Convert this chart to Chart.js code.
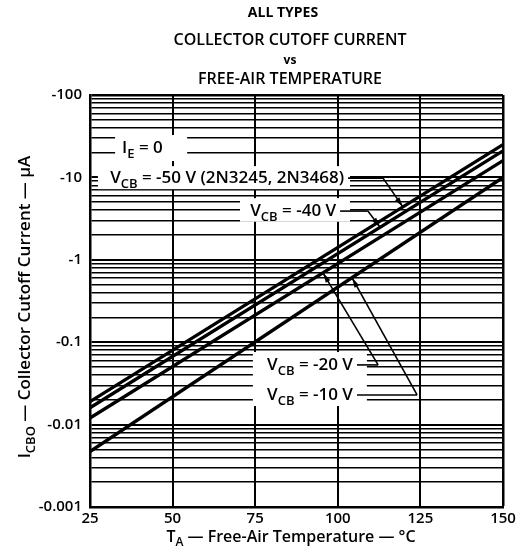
<!DOCTYPE html>
<html>
<head>
<meta charset="utf-8">
<script src="https://cdn.jsdelivr.net/npm/chart.js@4.4.1/dist/chart.umd.min.js"></script>
<style>
  html, body { margin: 0; padding: 0; background: #fff; }
  canvas { display: block; }
</style>
</head>
<body>
<canvas id="cutoffChart" width="519" height="553"></canvas>
<script>
// Values (magnitude of I_CBO in uA)
const temperatures = [25, 150];
const iCbo50V = [0.019, 25];
const iCbo40V = [0.016, 21];
const iCbo20V = [0.012, 16];
const iCbo10V = [0.0047, 10];

const xTicks = [25, 50, 75, 100, 125, 150];
const yDecades = [0.001, 0.01, 0.1, 1, 10, 100];
const yTickLabels = ['-0.001', '-0.01', '-0.1', '-1', '-10', '-100'];

const FONT = '"Open Sans", Lato, sans-serif';
const WEIGHT = '600 ';
const INK = '#000';

const series = [iCbo50V, iCbo40V, iCbo20V, iCbo10V];

// every 1..9 step of each decade gets a grid line
const yGrid = [];
yDecades.forEach((d, i) => {
    if (i === yDecades.length - 1) { yGrid.push(d); return; }
    for (let m = 1; m <= 9; m++) yGrid.push(+(m * d).toPrecision(3));
});

// annotation boxes / arrows, placed in data units (degC, uA)
const notes = [
    { parts: [['I'], ['E', 1], [' = 0']], x: 34.7, y: 22.7, box: [32.6, 54.4, 32.7, 15.8] },
    { parts: [['V'], ['CB', 1], [' = -50 V (2N3245, 2N3468)']], x: 31.1, y: 9.8, box: [27.4, 103.7, 13.7, 7.2], elbow: 113.7, tipX: 119.7, line: 0 },
    { parts: [['V'], ['CB', 1], [' = -40 V']], x: 73.5, y: 3.9, box: [70.4, 103.7, 5.6, 2.9], elbow: 109.1, tipX: 112.8, line: 1 },
    { parts: [['V'], ['CB', 1], [' = -20 V']], x: 78.6, y: 0.053, box: [74.3, 108.8, 0.076, 0.0168], elbow: 112.2, tipX: 95.5, line: 2 },
    { parts: [['V'], ['CB', 1], [' = -10 V']], x: 78.6, y: 0.0229, elbow: 124.0, tipX: 104.3, line: 3 }
];

function valueOn(values, t) {
    const f = (t - temperatures[0]) / (temperatures[1] - temperatures[0]);
    const l0 = Math.log10(values[0]), l1 = Math.log10(values[1]);
    return Math.pow(10, l0 + f * (l1 - l0));
}

function isDecade(v) {
    const l = Math.log10(v);
    return Math.abs(l - Math.round(l)) < 1e-9;
}

// text with subscripts, returns drawn width
function drawRich(ctx, parts, x, y, size, align) {
    const subSize = Math.round(size * 0.78);
    let w = 0;
    parts.forEach(([t, sub]) => {
        ctx.font = WEIGHT + (sub ? subSize : size) + 'px ' + FONT;
        w += ctx.measureText(t).width;
    });
    let cx = align === 'center' ? x - w / 2 : (align === 'right' ? x - w : x);
    ctx.textAlign = 'left';
    ctx.textBaseline = 'middle';
    ctx.fillStyle = INK;
    parts.forEach(([t, sub]) => {
        ctx.font = WEIGHT + (sub ? subSize : size) + 'px ' + FONT;
        ctx.fillText(t, cx, sub ? y + size * 0.36 : y);
        cx += ctx.measureText(t).width;
    });
    return w;
}

function arrow(ctx, x0, y0, x1, y1) {
    ctx.beginPath();
    ctx.moveTo(x0, y0);
    ctx.lineTo(x1, y1);
    ctx.stroke();
    const a = Math.atan2(y1 - y0, x1 - x0);
    const len = 10, half = 2.6;
    ctx.beginPath();
    ctx.moveTo(x1, y1);
    ctx.lineTo(x1 - len * Math.cos(a) + half * Math.sin(a), y1 - len * Math.sin(a) - half * Math.cos(a));
    ctx.lineTo(x1 - len * Math.cos(a) - half * Math.sin(a), y1 - len * Math.sin(a) + half * Math.cos(a));
    ctx.closePath();
    ctx.fill();
}

const sheetPlugin = {
    id: 'sheet',
    beforeDraw(chart) {
        const ctx = chart.ctx;
        ctx.save();
        ctx.fillStyle = '#fff';
        ctx.fillRect(0, 0, chart.width, chart.height);
        ctx.restore();
    },
    beforeDatasetsDraw(chart) {
        // white patches behind the labels, over the grid
        const { ctx, scales: { x, y } } = chart;
        ctx.save();
        ctx.fillStyle = '#fff';
        notes.forEach(n => {
            if (!n.box) return;
            const x0 = x.getPixelForValue(n.box[0]), x1 = x.getPixelForValue(n.box[1]);
            const y0 = y.getPixelForValue(n.box[2]), y1 = y.getPixelForValue(n.box[3]);
            ctx.fillRect(x0, y0, x1 - x0, y1 - y0);
        });
        ctx.restore();
    },
    afterDatasetsDraw(chart) {
        const { ctx, scales: { x, y } } = chart;
        ctx.save();
        ctx.strokeStyle = INK;
        ctx.fillStyle = INK;
        ctx.lineWidth = 1.6;
        notes.forEach(n => {
            const px = x.getPixelForValue(n.x), py = y.getPixelForValue(n.y);
            const w = drawRich(ctx, n.parts, px, py, 17, 'left');
            if (n.elbow === undefined) return;
            const ex = x.getPixelForValue(n.elbow);
            const tx = x.getPixelForValue(n.tipX);
            const ty = y.getPixelForValue(valueOn(series[n.line], n.tipX));
            ctx.beginPath();
            ctx.moveTo(px + w + 4, py);
            ctx.lineTo(ex, py);
            ctx.stroke();
            arrow(ctx, ex, py, tx, ty);
        });
        ctx.restore();
    },
    afterDraw(chart) {
        const { ctx } = chart;
        ctx.save();
        ctx.fillStyle = INK;
        ctx.textAlign = 'center';
        ctx.textBaseline = 'middle';
        const cx = 290;
        ctx.font = 'bold 14px ' + FONT;
        ctx.fillText('ALL TYPES', 283, 13);
        ctx.font = WEIGHT + '16px ' + FONT;
        ctx.fillText('COLLECTOR CUTOFF CURRENT', cx, 40);
        ctx.font = 'bold 12px ' + FONT;
        ctx.fillText('vs', cx, 61);
        ctx.font = WEIGHT + '16px ' + FONT;
        ctx.fillText('FREE-AIR TEMPERATURE', cx, 79);

        drawRich(ctx, [['T'], ['A', 1], [' \u2014 Free-Air Temperature \u2014 \u00b0C']], 291, 537, 16, 'center');

        ctx.translate(25, 307);
        ctx.rotate(-Math.PI / 2);
        drawRich(ctx, [['I'], ['CBO', 1], [' \u2014 Collector Cutoff Current \u2014 \u03bcA']], 0, 0, 17, 'center');
        ctx.restore();
    }
};

const chart = new Chart(document.getElementById('cutoffChart'), {
    type: 'line',
    data: {
        datasets: series.map(values => ({
            data: temperatures.map((t, i) => ({ x: t, y: values[i] })),
            borderColor: INK,
            borderWidth: 3.4,
            pointRadius: 0,
            tension: 0,
            fill: false
        }))
    },
    options: {
        responsive: false,
        animation: false,
        devicePixelRatio: 1,
        layout: { padding: { top: 95, right: 16, bottom: 0, left: 0 } },
        plugins: {
            legend: { display: false },
            tooltip: { enabled: false }
        },
        scales: {
            x: {
                type: 'linear',
                min: 25,
                max: 150,
                afterBuildTicks: scale => { scale.ticks = xTicks.map(v => ({ value: v })); },
                afterFit: scale => { scale.height = 46; },
                ticks: {
                    color: INK,
                    font: { family: FONT, size: 15, weight: '600' },
                    padding: 3,
                    maxRotation: 0,
                    autoSkip: false
                },
                grid: {
                    color: INK,
                    lineWidth: ctx => (ctx.index === xTicks.length - 1 ? 2.5 : 2),
                    drawTicks: false
                },
                border: { color: INK, width: 2.5 }
            },
            y: {
                type: 'logarithmic',
                min: yDecades[0],
                max: yDecades[yDecades.length - 1],
                afterBuildTicks: scale => { scale.ticks = yGrid.map(v => ({ value: v })); },
                afterFit: scale => { scale.width = 90; },
                ticks: {
                    color: INK,
                    font: { family: FONT, size: 15, weight: '600' },
                    padding: 8,
                    autoSkip: false,
                    callback: v => {
                        if (!isDecade(v)) return '';
                        const i = yDecades.findIndex(d => Math.abs(d - v) / d < 1e-6);
                        return i >= 0 ? yTickLabels[i] : '';
                    }
                },
                grid: {
                    color: INK,
                    lineWidth: ctx => {
                        if (!ctx.tick) return 1.5;
                        if (ctx.tick.value === yDecades[yDecades.length - 1]) return 2.5;
                        return isDecade(ctx.tick.value) ? 2 : 1.5;
                    },
                    drawTicks: false
                },
                border: { color: INK, width: 2.5 }
            }
        }
    },
    plugins: [sheetPlugin]
});
</script>
</body>
</html>
